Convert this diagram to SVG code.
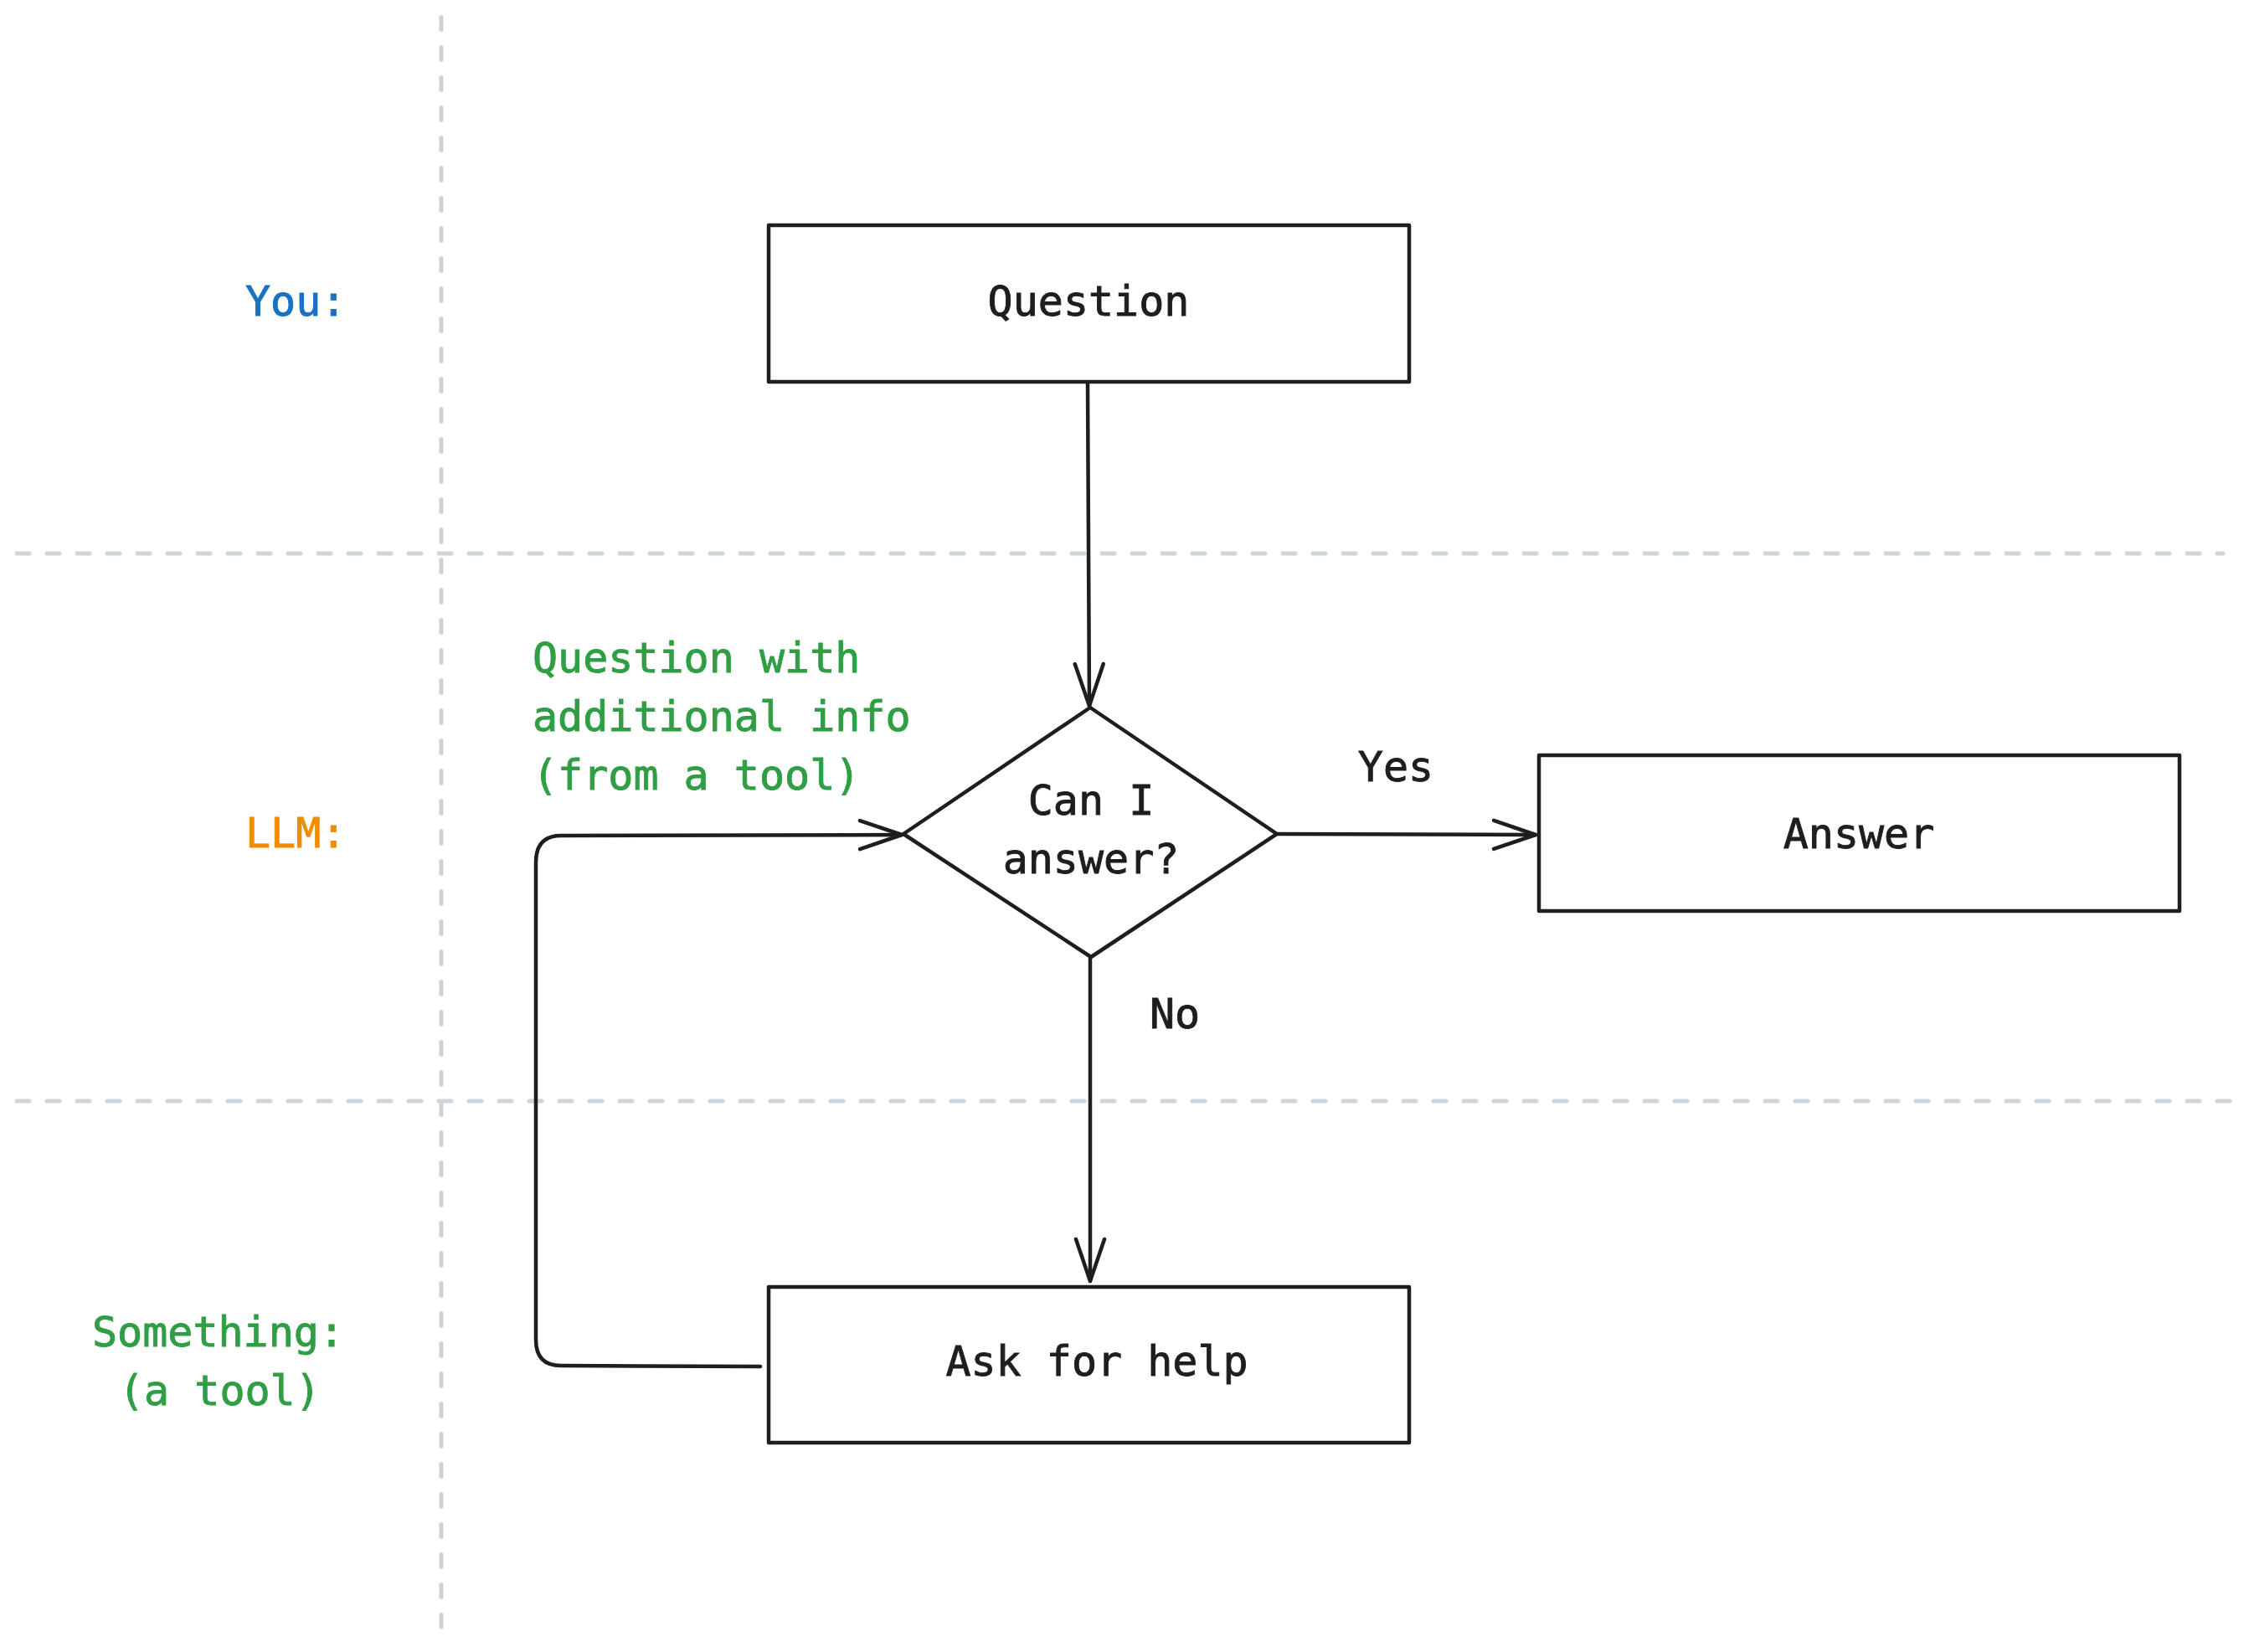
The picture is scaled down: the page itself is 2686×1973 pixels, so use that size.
<svg xmlns="http://www.w3.org/2000/svg" width="2686" height="1973" viewBox="0 0 2686 1973">
<defs>
<style>
.lane{stroke:#ced4da;stroke-width:5;stroke-dasharray:15 21;stroke-linecap:round;fill:none}
.box{fill:#ffffff;stroke:#1e1e1e;stroke-width:4.5;stroke-linejoin:round}
.conn{fill:none;stroke:#1e1e1e;stroke-width:4.5;stroke-linecap:round;stroke-linejoin:round}
.t{font-family:"DejaVu Sans Mono","Liberation Mono",monospace;font-size:50px;fill:#1e1e1e;stroke:#1e1e1e;stroke-width:0.9}
.c{text-anchor:middle}
.green{fill:#2f9e44;stroke:#2f9e44}
.blue{fill:#1971c2;stroke:#1971c2}
.orange{fill:#f08c00;stroke:#f08c00}
</style>
<marker id="arr" markerUnits="userSpaceOnUse" viewBox="-60 -25 70 50" markerWidth="70" markerHeight="50" refX="0" refY="0" orient="auto">
<path d="M -50 -17 L 0 0 L -50 17" fill="none" stroke="#1e1e1e" stroke-width="4.5" stroke-linecap="round" stroke-linejoin="round"/>
</marker>
</defs>
<rect width="2686" height="1973" fill="#ffffff"/>
<g id="lanes">
<line class="lane" x1="527" y1="20.5" x2="527" y2="1943"/>
<line class="lane" x1="20" y1="661" x2="2655" y2="661"/>
<line class="lane" x1="20" y1="1315" x2="2666" y2="1315"/>
</g>
<g id="lane-labels">
<text class="t blue" x="293" y="377">You:</text>
<text class="t orange" x="293" y="1012">LLM:</text>
<text class="t green" x="110" y="1608">Something:</text>
<text class="t green" x="142" y="1678">(a tool)</text>
</g>
<g id="connectors">
<path class="conn" d="M 1299 457 L 1301 843" marker-end="url(#arr)"/>
<path class="conn" d="M 1526 996 L 1834 997" stroke-width="5.5" marker-end="url(#arr)"/>
<path class="conn" d="M 1302 1144 L 1302 1530" marker-end="url(#arr)"/>
<path class="conn" d="M 908 1632 L 670 1631 Q 640 1631 640 1600 L 640 1030 Q 640 998 670 998 L 1077 997" marker-end="url(#arr)"/>
<text class="t c" x="1667" y="933">Yes</text>
<text class="t c" x="1403" y="1228">No</text>
<text class="t green" x="636" y="803">Question with</text>
<text class="t green" x="636" y="873">additional info</text>
<text class="t green" x="636" y="943">(from a tool)</text>
</g>
<g id="node-question">
<rect class="box" x="918" y="269" width="765" height="187"/>
<text class="t c" x="1300" y="377">Question</text>
</g>
<g id="node-decision">
<polygon class="box" points="1302,845 1525,996 1303,1143 1079,996"/>
<text class="t c" x="1303" y="973">Can I</text>
<text class="t c" x="1303" y="1043">answer?</text>
</g>
<g id="node-answer">
<rect class="box" x="1838" y="902" width="765" height="186"/>
<text class="t c" x="2220" y="1013">Answer</text>
</g>
<g id="node-ask">
<rect class="box" x="918" y="1537" width="765" height="186"/>
<text class="t c" x="1310" y="1643">Ask for help</text>
</g>
</svg>
